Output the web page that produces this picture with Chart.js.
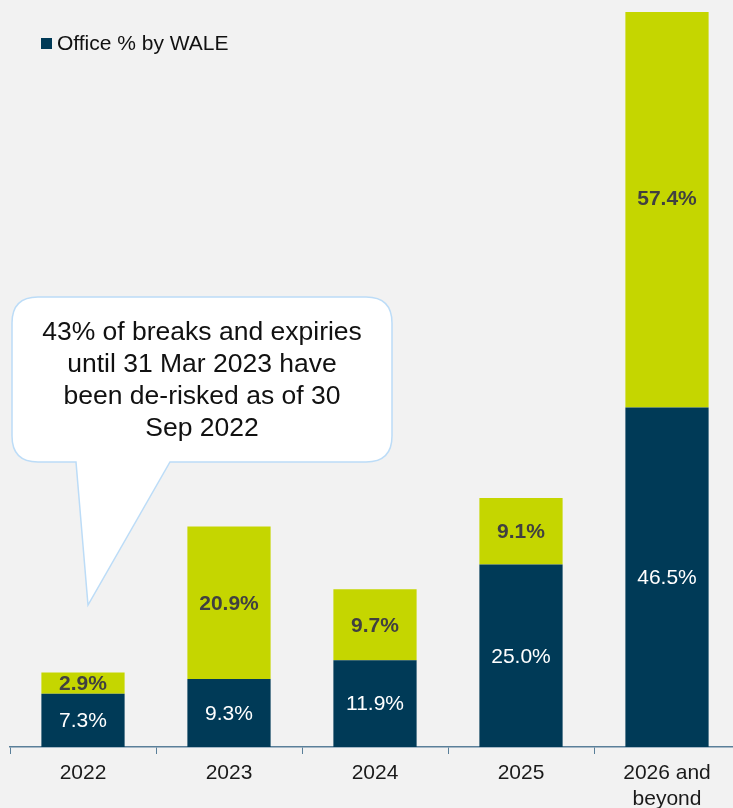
<!DOCTYPE html>
<html>
<head>
<meta charset="utf-8">
<script src="https://cdn.jsdelivr.net/npm/chart.js@4"></script>
<style>
  html, body { margin: 0; padding: 0; background: #f2f2f2; overflow: hidden; }
  #wrap { position: relative; width: 750px; height: 808px; }
</style>
</head>
<body>
<div id="wrap"><canvas id="wale"></canvas></div>
<script>
var years = ['2022', '2023', '2024', '2025', ['2026 and', 'beyond']];
var officeWale = [7.3, 9.3, 11.9, 25.0, 46.5];
var otherWale = [2.9, 20.9, 9.7, 9.1, 57.4];
var calloutLines = ['43% of breaks and expiries', 'until 31 Mar 2023 have', 'been de-risked as of 30', 'Sep 2022'];

var FONT = '"Liberation Sans", Arial, sans-serif';

// bar labels, legend and the speech bubble
var extras = {
  id: 'extras',
  afterDatasetsDraw: function(chart) {
    var ctx = chart.ctx;
    ctx.save();
    chart.data.datasets.forEach(function(ds, i) {
      var meta = chart.getDatasetMeta(i);
      meta.data.forEach(function(bar, j) {
        var y = (bar.y + bar.base) / 2;
        ctx.font = (i == 1 ? 'bold ' : '') + '21px ' + FONT;
        ctx.fillStyle = i == 1 ? '#404040' : '#ffffff';
        ctx.textAlign = 'center';
        ctx.textBaseline = 'middle';
        ctx.fillText(ds.data[j].toFixed(1) + '%', bar.x, y + 1);
      });
    });

    // legend
    ctx.fillStyle = chart.data.datasets[0].backgroundColor;
    ctx.fillRect(41, 38, 11, 11);
    ctx.fillStyle = '#111';
    ctx.font = '21px ' + FONT;
    ctx.textAlign = 'left';
    ctx.textBaseline = 'middle';
    ctx.fillText(chart.data.datasets[0].label, 57, 44);

    // callout bubble
    var x0 = 12, y0 = 297, x1 = 392, y1 = 462, r = 26;
    ctx.beginPath();
    ctx.moveTo(x0 + r, y0);
    ctx.lineTo(x1 - r, y0);
    ctx.quadraticCurveTo(x1, y0, x1, y0 + r);
    ctx.lineTo(x1, y1 - r);
    ctx.quadraticCurveTo(x1, y1, x1 - r, y1);
    ctx.lineTo(170, y1);
    ctx.lineTo(88, 605);
    ctx.lineTo(76, y1);
    ctx.lineTo(x0 + r, y1);
    ctx.quadraticCurveTo(x0, y1, x0, y1 - r);
    ctx.lineTo(x0, y0 + r);
    ctx.quadraticCurveTo(x0, y0, x0 + r, y0);
    ctx.closePath();
    ctx.fillStyle = '#ffffff';
    ctx.fill();
    ctx.strokeStyle = '#bcdcf7';
    ctx.lineWidth = 1.5;
    ctx.stroke();

    ctx.fillStyle = '#111';
    ctx.font = '26.5px ' + FONT;
    ctx.textAlign = 'center';
    calloutLines.forEach(function(t, k) {
      ctx.fillText(t, 202, 333 + k * 32);
    });
    ctx.restore();
  }
};

new Chart(document.getElementById('wale'), {
  type: 'bar',
  data: {
    labels: years,
    datasets: [
      { label: 'Office % by WALE', data: officeWale, backgroundColor: '#003a57' },
      { label: 'Other', data: otherWale, backgroundColor: '#c5d600' }
    ]
  },
  options: {
    responsive: true,
    maintainAspectRatio: false,
    animation: false,
    events: [],
    layout: { padding: { left: 10, right: 10, top: 12, bottom: 0 } },
    datasets: { bar: { categoryPercentage: 1, barPercentage: 0.57 } },
    plugins: { legend: { display: false }, tooltip: { enabled: false } },
    scales: {
      x: {
        stacked: true,
        grid: { drawOnChartArea: false, tickLength: 7, color: '#5a7f99', offset: true },
        border: { color: '#5a7f99', width: 1.5 },
        ticks: { color: '#1a1a1a', font: { family: FONT, size: 21, lineHeight: 1.25 }, padding: 6, maxRotation: 0 },
        afterFit: function(s) { s.height = 61; }
      },
      y: {
        stacked: true,
        display: false,
        min: 0,
        max: 100.7
      }
    }
  },
  plugins: [extras]
});
</script>
</body>
</html>
